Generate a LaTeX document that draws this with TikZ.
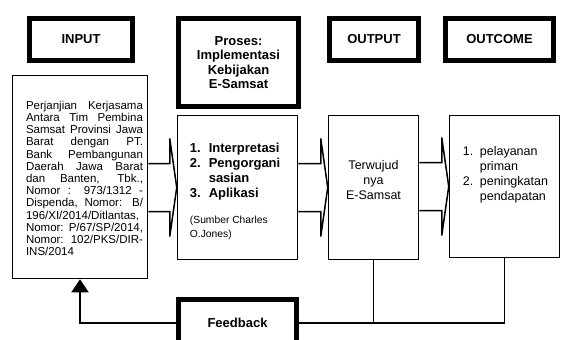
\documentclass[tikz,border=0pt]{standalone}
\usepackage{fontspec}
\setmainfont{Liberation Sans}
\usetikzlibrary{positioning, calc, arrows.meta}
\tikzset{%
  headbox/.style={draw, line width=5pt, inner sep=0pt, align=center,
    font=\fontsize{13}{14.5}\selectfont\bfseries}, % the thick title boxes
  bodybox/.style={draw, line width=1.5pt, inner sep=0pt},
  intext/.style={inner sep=0pt, text width=117pt, align=justify,
    font=\fontsize{11.5}{12.2}\selectfont},
  listtext/.style={inner sep=0pt, font=\fontsize{13}{15}\selectfont\bfseries},
  srctext/.style={inner sep=0pt, align=left, font=\fontsize{10.3}{14}\selectfont},
  outtext/.style={inner sep=0pt, align=center, font=\fontsize{12.5}{15}\selectfont},
  octext/.style={inner sep=0pt, font=\fontsize{12.5}{15}\selectfont},
  blockarrow/.style={line width=1.5pt, line join=miter},
  fbline/.style={line width=1.5pt}
}

\begin{document}
\begin{tikzpicture}[x=1pt, y=-1pt]

\useasboundingbox (0,0) rectangle (565,340);
\clip (0,0) rectangle (565,340);

% title row
\node[headbox, minimum width=103pt, minimum height=42pt] (inhead) at (81,39.5) {INPUT};
\node[headbox, minimum width=120pt, minimum height=88pt] (prohead) at (238.5,62.5) {Proses:\\Implementasi\\Kebijakan\\E-Samsat};
\node[headbox, minimum width=89pt, minimum height=42pt] (outhead) at (374,39.5) {OUTPUT};
\node[headbox, minimum width=108pt, minimum height=42pt] (ochead) at (499.5,39.5) {OUTCOME};

% body row
\node[bodybox, minimum width=135pt, minimum height=203pt] (inbody) at (80,177) {};
\node[bodybox, minimum width=120pt, minimum height=144pt] (probody) at (237.5,187.5) {};
\node[bodybox, minimum width=90pt, minimum height=144pt] (outbody) at (373.5,187.5) {};
\node[bodybox, minimum width=110pt, minimum height=142pt] (ocbody) at (504.5,186.5) {};

\node[intext, below=26pt of inbody.north, xshift=4.5pt] (intx) {Perjanjian Kerjasama\linebreak
Antara Tim Pembina\linebreak
Samsat Provinsi Jawa\linebreak
Barat dengan PT.\linebreak
Bank Pembangunan\linebreak
Daerah Jawa Barat\linebreak
dan Banten, Tbk.,\linebreak
Nomor : 973/1312 -\linebreak
Dispenda, Nomor: B/\linebreak
196/XI/2014/Ditlantas,\linebreak
Nomor: P/67/SP/2014,\linebreak
Nomor: 102/PKS/DIR-\linebreak
INS/2014};

\node[listtext, below right=27pt and 13pt of probody.north west] (protx) {%
\begin{tabular}{@{}l@{\hspace{8pt}}l@{}}
1. & Interpretasi\\
2. & Pengorgani\\
   & sasian\\
3. & Aplikasi
\end{tabular}};
\node[srctext, below right=14pt and 0pt of protx.south west] (prosrc) {(Sumber Charles\\O.Jones)};

\node[outtext, below=45pt of outbody.north] (outtx) {Terwujud\\nya\\E-Samsat};

\node[octext, below right=30pt and 14pt of ocbody.north west] (octx) {%
\begin{tabular}{@{}l@{\hspace{6.5pt}}l@{}}
1. & pelayanan\\
   & priman\\
2. & peningkatan\\
   & pendapatan
\end{tabular}};

% block arrows between the bodies
\foreach \a/\b in {inbody/probody, probody/outbody, outbody/ocbody}
  \draw[blockarrow] ($(\a.east |- \b.west)+(0,-24)$) -- ($(\b.west)+(-7,-24)$) -- ++(0,-25)
    -- (\b.west) -- ++(-7,49) -- ++(0,-25) -- ($(\a.east |- \b.west)+(0,24)$);

% feedback loop
\node[headbox, minimum width=118pt, minimum height=47pt] (fb) at (237.5,323) {Feedback};
\draw[fbline] (fb.east) -| (ocbody.south);
\draw[fbline] (outbody.south) -- (outbody.south |- fb.east);
\draw[fbline, -{Triangle[width=17pt, length=13pt]}] (fb.west) -| (inbody.south);

\end{tikzpicture}
\end{document}
